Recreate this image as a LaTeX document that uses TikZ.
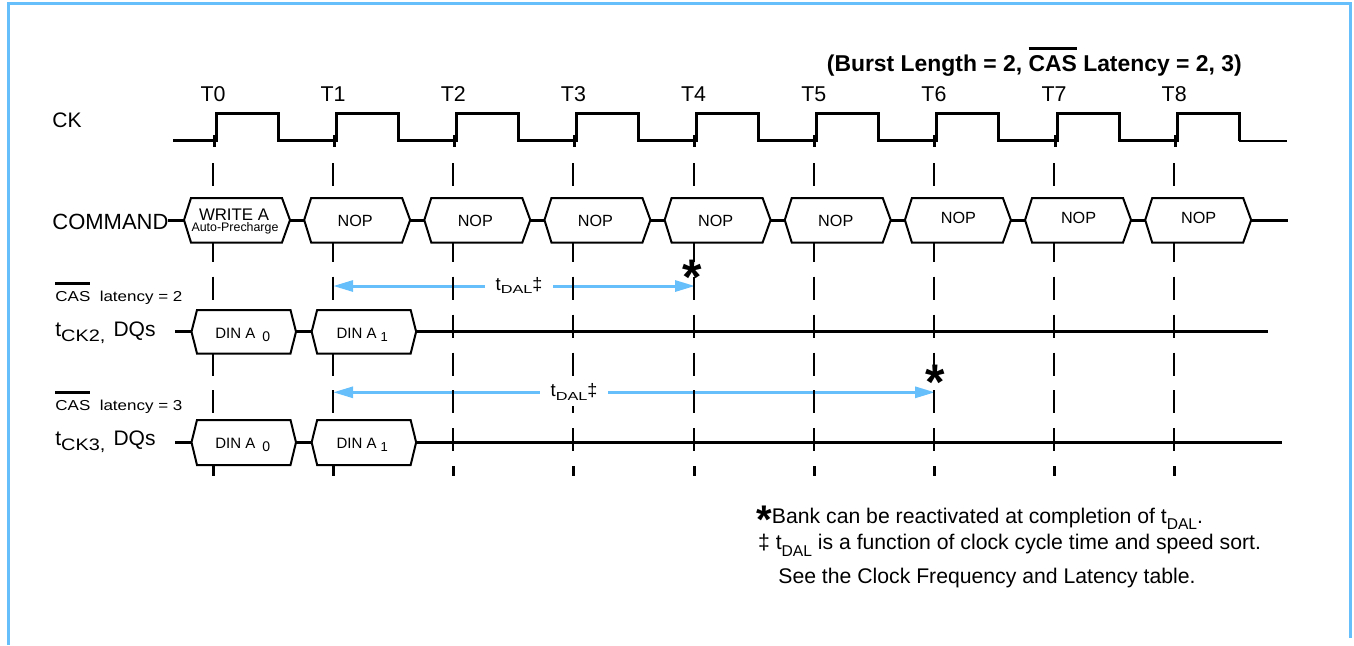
\documentclass[tikz,border=0pt]{standalone}
\usepackage{fontspec}
\usepackage{graphicx}
\setmainfont{Liberation Sans}
\usetikzlibrary{arrows.meta}
\definecolor{frameblue}{RGB}{102,190,250}
\newcommand\fs[1]{\fontsize{#1}{#1}\selectfont}
\newcommand\ovl[2][2.5pt]{\vbox{\hrule height 1.5pt\kern#1\hbox{#2}}}
\begin{document}
\begin{tikzpicture}[x=0.5pt,y=-0.5pt,line cap=butt,
  sig/.style={line width=1.5pt},
  thinsig/.style={line width=1pt},
  gridline/.style={line width=1pt,dash pattern=on 11.5pt off 7.45pt},
  hexbox/.style={draw,line width=1pt,fill=white},
  lbl/.style={inner sep=0pt,anchor=base west},
  ctr/.style={inner sep=0pt,anchor=base},
  tdal/.style={line width=1.5pt,frameblue,{Triangle[length=10pt,width=5.5pt]}-{Triangle[length=10pt,width=5.5pt]}},
  dallbl/.style={fill=white,inner xsep=5.5pt,inner ysep=3pt,anchor=base},
  star/.style={inner sep=0pt,anchor=base,font=\fs{25pt}\bfseries}]
\useasboundingbox (0,0) rectangle (1354,645);

% frame
\draw[frameblue,line width=1.5pt] (8.5,645) -- (8.5,3.5) -- (1350.5,3.5) -- (1350.5,638);

% tDAL arrows
\coordinate (a2s) at (333.15,286);
\coordinate (a2e) at (695,286);
\coordinate (a3s) at (333.15,392.3);
\coordinate (a3e) at (935,392.3);
\draw[tdal] (a2s) -- (a2e);
\draw[tdal] (a3s) -- (a3e);

% dashed clock reference lines
\foreach \i in {0,...,8}{
  \pgfmathsetmacro\xd{213+120.15*\i}
  \draw[gridline] (\xd,163) -- (\xd,476);
  \draw[sig] (\xd+0.5,466) -- (\xd+0.5,476);
}

% tDAL labels
\node[dallbl] (dal2) at (519,290.5) {\fs{9.3pt}t\raisebox{-1.7pt}{\scalebox{1.4}[1]{\fs{5.8pt}DAL}}{\fs{9pt}‡}};
\node[dallbl] (dal3) at (574,396.8) {\fs{9.3pt}t\raisebox{-1.7pt}{\scalebox{1.4}[1]{\fs{5.8pt}DAL}}{\fs{9pt}‡}};

% signal lines
\coordinate (cmdend) at (1288,220);
\draw[sig] (168,220) -- (cmdend);
\coordinate (dq2s) at (175,331.7);
\coordinate (dq2e) at (1268,331.7);
\coordinate (dq3s) at (175,442.3);
\coordinate (dq3e) at (1282,442.3);
\draw[sig] (dq2s) -- (dq2e);
\draw[sig] (dq3s) -- (dq3e);

% command boxes
\foreach \i in {0,...,8}{
  \pgfmathsetmacro\xd{213+120.15*\i}
  \draw[hexbox] (\xd-29,220) -- (\xd-22,198) -- (\xd+69,198) -- (\xd+77,220) -- (\xd+69,242.5) -- (\xd-22,242.5) -- cycle;
}
\node[ctr,font=\fs{8.4pt}] (wr) at (234,220) {WRITE A};
\node[ctr,font=\fs{6.2pt}] (ap) at (235,231.7) {Auto-Precharge};
\foreach \i in {1,...,5}{
  \pgfmathsetmacro\xd{213+120.15*\i}
  \node[ctr,font=\fs{8.1pt}] (nop\i) at (\xd+22,226) {NOP};
}
\foreach \i in {6,7,8}{
  \pgfmathsetmacro\xd{213+120.15*\i}
  \node[ctr,font=\fs{8.1pt}] (nop\i) at (\xd+24.5,223.5) {NOP};
}

% DQ boxes
\foreach \i/\top/\mid/\bot in {0/310/331.7/353.5,1/310/331.7/353.5,0/420/442.3/465,1/420/442.3/465}{
  \pgfmathsetmacro\xd{213+120.15*\i}
  \draw[hexbox] (\xd-21.5,\mid) -- (\xd-16,\top) -- (\xd+77.5,\top) -- (\xd+83,\mid) -- (\xd+77.5,\bot) -- (\xd-16,\bot) -- cycle;
}
\node[ctr,font=\fs{7.5pt}] (d20) at (242.8,338) {DIN A\hspace{3.5pt}\raisebox{-1.5pt}{\fs{7pt}0}};
\node[ctr,font=\fs{7.5pt}] (d21) at (362.2,338) {DIN A\hspace{2pt}\raisebox{-1.7pt}{\fs{6.5pt}1}};
\node[ctr,font=\fs{7.5pt}] (d30) at (242.8,448.3) {DIN A\hspace{3.5pt}\raisebox{-1.5pt}{\fs{7pt}0}};
\node[ctr,font=\fs{7.5pt}] (d31) at (362.2,448.3) {DIN A\hspace{2pt}\raisebox{-1.7pt}{\fs{6.5pt}1}};

% clock
\draw[sig] (173,140.5) \foreach \i in {0,...,8}{ -- ({216+120.15*\i},140.5) -- ({216+120.15*\i},113) -- ({278+120.15*\i},113) -- ({278+120.15*\i},140.5) };
\draw[thinsig] (1239.2,140.5) -- (1287,140.5);
\foreach \i in {0,...,8}{
  \pgfmathsetmacro\xd{213+120.15*\i}
  \draw[sig] (\xd+1,135) -- (\xd+1,147);
}

% T labels
\foreach \i in {0,...,8}{
  \pgfmathsetmacro\xd{213+120.15*\i}
  \node[ctr,font=\fs{10.7pt}] (t\i) at (\xd,101.7) {T\i};
}

% left labels
\node[lbl,font=\fs{10.5pt}] (ck) at (52,127) {CK};
\node[lbl,font=\fs{11pt}] (cmd) at (52,229.5) {COMMAND};
\node[lbl] (cl2) at (55,301.7) {\scalebox{1.18}[1]{\fs{7.2pt}\ovl[3.2pt]{CAS}\ \ latency = 2}};
\node[lbl] (cl3) at (55,410) {\scalebox{1.18}[1]{\fs{7.2pt}\ovl[3.2pt]{CAS}\ \ latency = 3}};
\node[lbl,font=\fs{10.5pt}] (tck2) at (55,336) {t\raisebox{-2.85pt}{\scalebox{1.2}[1]{\fs{8.3pt}CK2,}}\hspace{4pt}DQs};
\node[lbl,font=\fs{10.5pt}] (tck3) at (55,445) {t\raisebox{-2.85pt}{\scalebox{1.2}[1]{\fs{8.3pt}CK3,}}\hspace{4pt}DQs};

% title
\node[lbl,font=\fs{11.45pt}\bfseries] (title) at (826.5,71) {(Burst Length = 2, \ovl[2.3pt]{CAS} Latency = 2, 3)};

% asterisks
\node[star] (st2) at (692.5,294.5) {*};
\node[star] (st3) at (935,399.5) {*};

% notes
\node[lbl,font=\fs{10.6pt}] (n1) at (756,523) {{\fs{20pt}\bfseries\raisebox{-5pt}[0pt][0pt]{*}}Bank can be reactivated at completion of t\raisebox{-3.3pt}{\fs{7.8pt}DAL}.};
\node[lbl,font=\fs{10.6pt}] (n2) at (757.7,549.5) {‡ t\raisebox{-3.3pt}{\fs{7.8pt}DAL} is a function of clock cycle time and speed sort.};
\node[lbl,font=\fs{10.6pt}] (n3) at (778,583) {See the Clock Frequency and Latency table.};
\end{tikzpicture}
\end{document}
